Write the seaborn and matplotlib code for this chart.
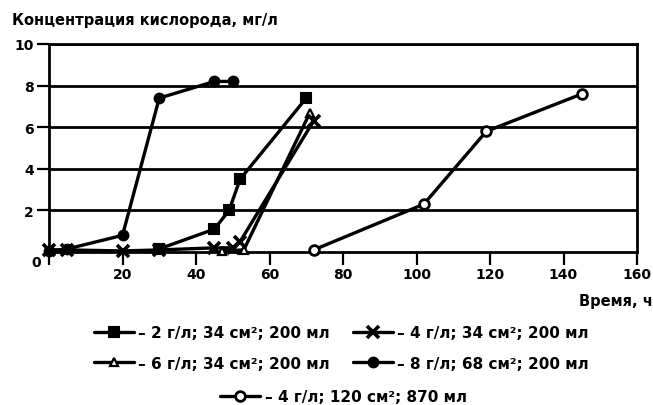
import pandas as pd
import matplotlib
matplotlib.use('Agg')
import matplotlib.pyplot as plt
import matplotlib.transforms as mtransforms
import seaborn as sns

# data (time in h, oxygen in mg/l)
t_2g = [30, 45, 49, 52, 70]
c_2g = [0.15, 1.1, 2.0, 3.5, 7.4]

t_4g = [0, 5, 20, 30, 45, 50, 52, 72]
c_4g = [0.1, 0.1, 0.05, 0.1, 0.2, 0.2, 0.5, 6.3]

t_6g = [47, 53, 71]
c_6g = [0.05, 0.1, 6.7]

t_8g = [0, 5, 20, 30, 45, 50]
c_8g = [0.05, 0.15, 0.8, 7.4, 8.2, 8.2]

t_4g_big = [72, 102, 119, 145]
c_4g_big = [0.1, 2.3, 5.8, 7.6]

labels = ['– 2 г/л; 34 см²; 200 мл',
          '– 4 г/л; 34 см²; 200 мл',
          '– 6 г/л; 34 см²; 200 мл',
          '– 8 г/л; 68 см²; 200 мл',
          '– 4 г/л; 120 см²; 870 мл']

xticks = [0, 20, 40, 60, 80, 100, 120, 140, 160]
yticks = [2, 4, 6, 8, 10]

sns.set_style('ticks')
plt.rcParams['font.family'] = ['DejaVu Sans']
plt.rcParams['font.weight'] = 'bold'
plt.rcParams['text.color'] = 'black'
plt.rcParams['xtick.color'] = 'black'
plt.rcParams['ytick.color'] = 'black'
plt.rcParams['xtick.labelcolor'] = 'black'
plt.rcParams['ytick.labelcolor'] = 'black'

fig = plt.figure(figsize=(6.53, 4.06), dpi=100)
ax = fig.add_axes([49/653, 1 - 253/406, (637-49)/653, (253-45)/406])

# (times, values, marker, face colour, size, edge width, zorder)
series = [
    (t_2g, c_2g, 's', 'black', 7, 1.5, 3),
    (t_4g, c_4g, 'x', 'black', 8, 2.6, 5),
    (t_6g, c_6g, '^', 'white', 6, 1.6, 4),
    (t_8g, c_8g, 'o', 'black', 7, 1.5, 3),
    (t_4g_big, c_4g_big, 'o', 'white', 7, 2.0, 3),
]

lines = []
for (t, c, m, fc, ms, mew, z), lab in zip(series, labels):
    df = pd.DataFrame({'t': t, 'c': c})
    sns.lineplot(data=df, x='t', y='c', ax=ax, color='black', lw=2.4,
                 marker=m, markersize=ms, markerfacecolor=fc,
                 markeredgecolor='black', markeredgewidth=mew,
                 label=lab, legend=False, clip_on=False, zorder=z)
    lines.append(ax.get_lines()[-1])

ax.set_xlim(0, 160)
ax.set_ylim(0, 10)
ax.set_xticks(xticks)
ax.set_yticks(yticks)
ax.set_xlabel('')
ax.set_ylabel('')
ax.yaxis.grid(True, color='black', lw=2)
ax.set_axisbelow(True)
for sp in ax.spines.values():
    sp.set_color('black')
    sp.set_linewidth(2)
ax.tick_params(axis='both', direction='out', length=9, width=1.6,
               color='black', labelcolor='black', labelsize=10, pad=2)

# the "0" label sits left of and above the other x labels in the original
off = mtransforms.ScaledTranslation(-9/72, 9/72, fig.dpi_scale_trans)
lab0 = ax.get_xticklabels()[0]
lab0.set_transform(lab0.get_transform() + off)

fig.text(12/653, 1 - 21/406, 'Концентрация кислорода, мг/л',
         fontsize=10.5, fontweight='bold', va='center', ha='left', color='black')
fig.text(1.0, 1 - 302/406, 'Время, ч', fontsize=10.5, fontweight='bold',
         va='center', ha='right', color='black')

order = [0, 2, 1, 3]
fig.legend([lines[i] for i in order], [labels[i] for i in order],
           ncol=2, loc='center', bbox_to_anchor=(0.523, 1 - 349/406),
           frameon=False, fontsize=11, handlelength=2.6,
           handletextpad=0.3, columnspacing=1.5, labelspacing=1.0,
           borderpad=0, labelcolor='black')
fig.legend([lines[4]], [labels[4]], loc='center',
           bbox_to_anchor=(0.526, 1 - 398/406), frameon=False, fontsize=11,
           handlelength=2.6, handletextpad=0.3, borderpad=0,
           labelcolor='black')

fig.savefig('out.png', dpi=100)
